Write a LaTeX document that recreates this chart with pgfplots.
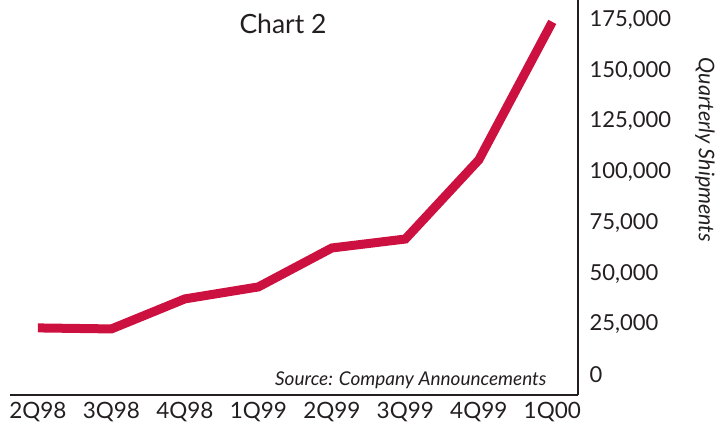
\documentclass[border=0pt]{standalone}
\usepackage{pgfplots}
\pgfplotsset{compat=1.18}
\usepackage{fontspec}
\setmainfont{Lato}
\definecolor{linered}{RGB}{204,16,64}
\definecolor{axgray}{RGB}{35,31,32}
\begin{document}
\begin{tikzpicture}
\useasboundingbox (0,0) rectangle (728pt,432pt);
\begin{axis}[
  at={(10pt,37pt)}, anchor=south west,
  scale only axis, width=568pt, height=395pt,
  xmin=-0.38, xmax=7.35,
  ymin=-9860, ymax=184800,
  axis x line=bottom, axis y line=right,
  axis line style={-, line width=2pt, color=axgray},
  xtick={0,...,7},
  xticklabels={2Q98,3Q98,4Q98,1Q99,2Q99,3Q99,4Q99,1Q00},
  ytick={0,25000,50000,75000,100000,125000,150000,175000},
  yticklabels={0,{25,000},{50,000},{75,000},{100,000},{125,000},{150,000},{175,000}},
  scaled y ticks=false,
  major tick length=0pt,
  xticklabel style={font=\fontsize{22.5}{24}\selectfont, color=axgray, anchor=north, yshift=-4pt},
  yticklabel style={font=\fontsize{22}{24}\selectfont, color=axgray, anchor=west, xshift=8pt},
  clip=false,
]
\addplot[linered, line width=9pt, line join=miter] coordinates {
  (0,23200) (1,22700) (2,37500) (3,43400) (4,62600) (5,67000) (6,106000) (7,174000)
};
\end{axis}
\node[font=\fontsize{26.5}{28}\selectfont, color=axgray] at (283pt,408pt) {Chart 2};
\node[font=\itshape\fontsize{19}{21}\selectfont, color=axgray, anchor=base east] at (550pt,47pt) {Source: Company Announcements};
\node[font=\itshape\fontsize{21.5}{23}\selectfont, color=axgray, rotate=-90] at (705pt,282pt) {Quarterly Shipments};
\end{tikzpicture}
\end{document}
